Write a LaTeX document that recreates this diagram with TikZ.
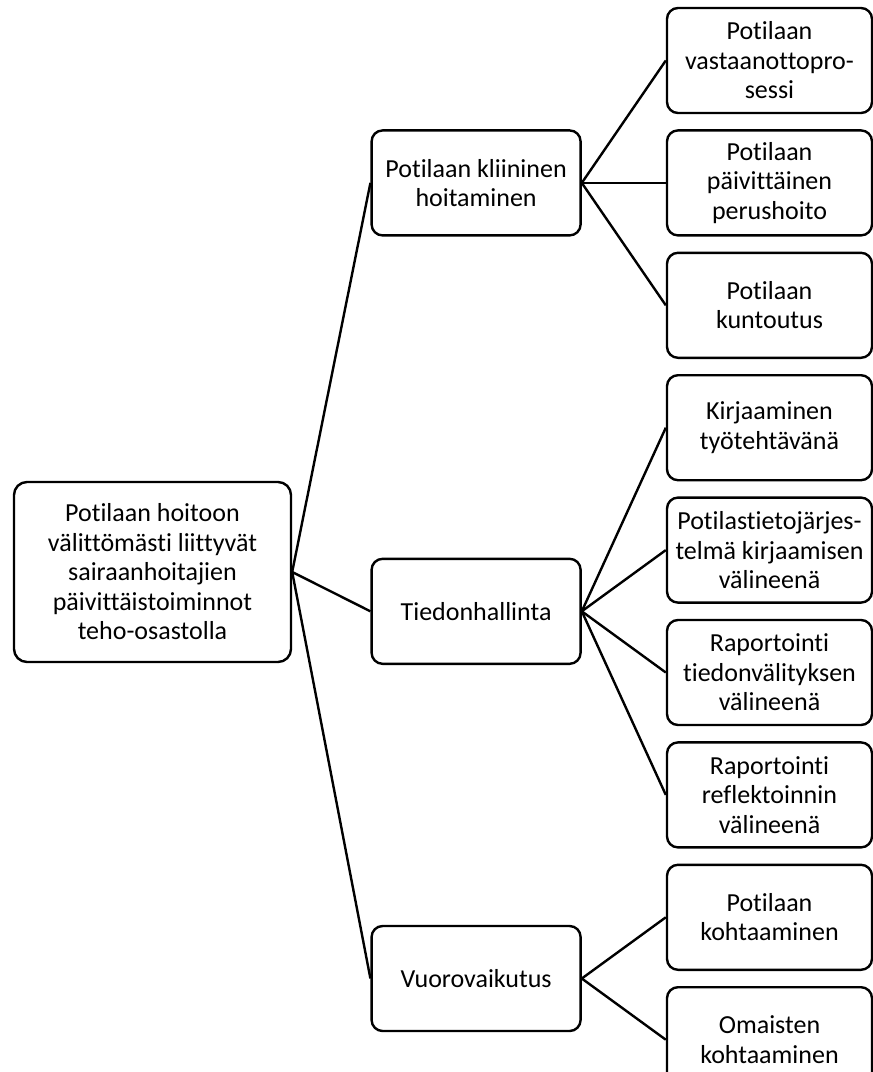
\documentclass[tikz,border=0pt]{standalone}
\usepackage{fontspec}
\setmainfont{Carlito}[RawFeature={-liga;-clig;-calt;-dlig}]
\usepackage{tikz}
\usetikzlibrary{positioning,calc}
\tikzset{
  rootbox/.style={
    rectangle, rounded corners=13pt, draw=black, line width=2.4pt,
    minimum width=277pt, minimum height=180pt,
    font=\fontsize{26}{29.5}\selectfont, align=center,
    inner sep=2pt
  },
  themebox/.style={
    rectangle, rounded corners=11pt, draw=black, line width=2.4pt,
    minimum width=209pt, minimum height=105pt,
    font=\fontsize{26}{29.5}\selectfont, align=center,
    inner sep=2pt
  },
  leafbox/.style={
    rectangle, rounded corners=11pt, draw=black, line width=2.4pt,
    minimum width=205pt, minimum height=105pt,
    font=\fontsize{26}{29.5}\selectfont, align=center,
    inner sep=2pt
  },
  branch/.style={
    line width=2.4pt, color=black
  },
}
\begin{document}
\begin{tikzpicture}[x=1pt, y=1pt, node distance=15pt and 84pt]
  \useasboundingbox (0,0) rectangle (873,-1072);

  % right column
  \node[leafbox] (vast) at (769.5,-60.5) {Potilaan\\vastaanottopro-\\sessi};
  \node[leafbox, below=of vast] (peru) {Potilaan\\päivittäinen\\perushoito};
  \node[leafbox, below=of peru] (kunt) {Potilaan\\kuntoutus};
  \node[leafbox, below=of kunt] (kirj) {Kirjaaminen\\työtehtävänä};
  \node[leafbox, below=of kirj] (ptj) {Potilastietojärjes-\\telmä kirjaamisen\\välineenä};
  \node[leafbox, below=of ptj] (rtied) {Raportointi\\tiedonvälityksen\\välineenä};
  \node[leafbox, below=of rtied] (rrefl) {Raportointi\\reflektoinnin\\välineenä};
  \node[leafbox, below=of rrefl] (pkoht) {Potilaan\\kohtaaminen};
  \node[leafbox, below=of pkoht] (okoht) {Omaisten\\kohtaaminen};

  % middle column
  \node[themebox, left=of peru] (klin) {Potilaan kliininen\\hoitaminen};
  \node[themebox, left=of $(ptj.south west)!0.5!(rtied.north west)$] (tied) {Tiedonhallinta};
  \node[themebox, left=of $(pkoht.south west)!0.5!(okoht.north west)$] (vuor) {Vuorovaikutus};

  % root
  \node[rootbox] (root) at (152.5,-572)
    {Potilaan hoitoon\\välittömästi liittyvät\\sairaanhoitajien\\päivittäistoiminnot\\teho-osastolla};

  \draw[branch] (root.east) -- (klin.west);
  \draw[branch] (root.east) -- (tied.west);
  \draw[branch] (root.east) -- (vuor.west);

  \foreach \leaf in {vast,peru,kunt}
    \draw[branch] (klin.east) -- (\leaf.west);
  \foreach \leaf in {kirj,ptj,rtied,rrefl}
    \draw[branch] (tied.east) -- (\leaf.west);
  \foreach \leaf in {pkoht,okoht}
    \draw[branch] (vuor.east) -- (\leaf.west);
\end{tikzpicture}
\end{document}
